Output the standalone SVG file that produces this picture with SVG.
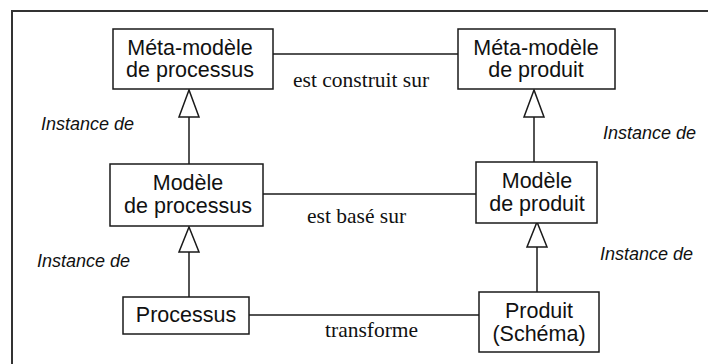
<svg xmlns="http://www.w3.org/2000/svg" width="708" height="364" viewBox="0 0 708 364">
  <style>
    .box { fill: #ffffff; stroke: #1a1a1a; stroke-width: 1.5; }
    .link { fill: none; stroke: #1a1a1a; stroke-width: 1.5; }
    .tri { fill: #ffffff; stroke: #1a1a1a; stroke-width: 1.5; }
    .lbl { font-family: "Liberation Sans", Arial, sans-serif; font-size: 21.5px; fill: #111; text-anchor: middle; }
    .rel { font-family: "Liberation Serif", "Times New Roman", serif; font-size: 21.5px; fill: #111; }
    .inst { font-family: "Liberation Sans", Arial, sans-serif; font-size: 18px; font-style: italic; fill: #111; }
  </style>
  <rect width="708" height="364" fill="#ffffff"/>
  <!-- outer frame (top and left edges) -->
  <path d="M12,364 V11 H708" fill="none" stroke="#333" stroke-width="2"/>

  <g id="connectors">
    <!-- associations -->
    <line class="link" x1="273" y1="54" x2="458" y2="54"/>
    <line class="link" x1="263" y1="194" x2="476" y2="194"/>
    <line class="link" x1="249" y1="315" x2="479" y2="315"/>
    <!-- instance-of (generalisation) links -->
    <line class="link" x1="189" y1="117" x2="189" y2="164"/>
    <polygon class="tri" points="189,90 179,117 199,117"/>
    <line class="link" x1="534" y1="117" x2="534" y2="162"/>
    <polygon class="tri" points="534,90 524,117 544,117"/>
    <line class="link" x1="189" y1="252" x2="189" y2="297"/>
    <polygon class="tri" points="189,227 179,252 199,252"/>
    <line class="link" x1="537" y1="247" x2="537" y2="292"/>
    <polygon class="tri" points="537,222 527,247 547,247"/>
    <!-- connector labels -->
    <text class="rel" x="293" y="87">est construit sur</text>
    <text class="rel" x="307" y="223">est basé sur</text>
    <text class="rel" x="325" y="337">transforme</text>
    <text class="inst" x="41" y="130">Instance de</text>
    <text class="inst" x="603" y="139">Instance de</text>
    <text class="inst" x="37" y="267">Instance de</text>
    <text class="inst" x="600" y="260">Instance de</text>
  </g>

  <g id="meta-processus">
    <rect class="box" x="113" y="29" width="160" height="60"/>
    <text class="lbl" x="190" y="55">Méta-modèle</text>
    <text class="lbl" x="190" y="77">de processus</text>
  </g>
  <g id="meta-produit">
    <rect class="box" x="458" y="29" width="157" height="60"/>
    <text class="lbl" x="536" y="55">Méta-modèle</text>
    <text class="lbl" x="536" y="77">de produit</text>
  </g>
  <g id="modele-processus">
    <rect class="box" x="110" y="164" width="153" height="62"/>
    <text class="lbl" x="188" y="190">Modèle</text>
    <text class="lbl" x="188" y="213">de processus</text>
  </g>
  <g id="modele-produit">
    <rect class="box" x="476" y="162" width="121" height="61"/>
    <text class="lbl" x="537" y="188">Modèle</text>
    <text class="lbl" x="537" y="211">de produit</text>
  </g>
  <g id="processus">
    <rect class="box" x="123" y="297" width="126" height="37"/>
    <text class="lbl" x="186" y="322">Processus</text>
  </g>
  <g id="produit">
    <rect class="box" x="479" y="292" width="120" height="60"/>
    <text class="lbl" x="539" y="318">Produit</text>
    <text class="lbl" x="539" y="341">(Schéma)</text>
  </g>
</svg>
